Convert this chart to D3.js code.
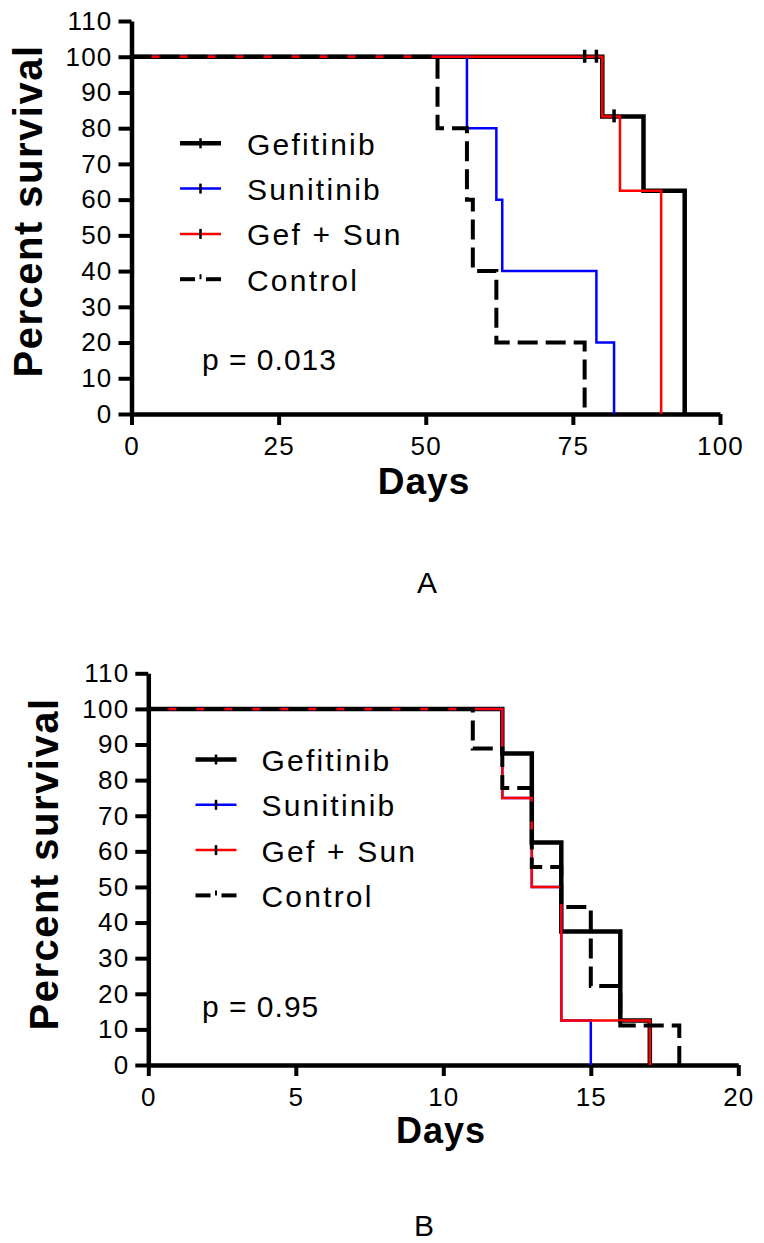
<!DOCTYPE html>
<html><head><meta charset="utf-8">
<script src="https://cdn.jsdelivr.net/npm/d3@7"></script>
<style>body{margin:0;background:#fff}svg{display:block}</style>
</head><body>
<svg id="c" width="764" height="1243"></svg>
<script>
// ---------- DATA ----------
const seriesNames = ["Gefitinib", "Sunitinib", "Gef + Sun", "Control"];
// Panel A
const xTicksA = [0, 25, 50, 75, 100];
const yTicks = [0, 10, 20, 30, 40, 50, 60, 70, 80, 90, 100, 110];
const gefDaysA = [0, 80, 87, 94];          const gefSurvA = [100, 83.3, 62.5, 0];
const sunDaysA = [0, 57, 62, 63, 79, 82];  const sunSurvA = [100, 80, 60, 40, 20, 0];
const comDaysA = [0, 80, 83, 90];          const comSurvA = [100, 83.3, 62.5, 0];
const ctlDaysA = [0, 52, 57, 58, 62, 77];  const ctlSurvA = [100, 80, 60, 40, 20, 0];
const gefCensDaysA = [77, 79, 82];         const gefCensSurvA = [100, 100, 83.3];
const pTextA = "p = 0.013";
// Panel B
const xTicksB = [0, 5, 10, 15, 20];
const gefDaysB = [0, 12, 13, 14, 16, 17];  const gefSurvB = [100, 87.5, 62.5, 37.5, 12.5, 0];
const sunDaysB = [0, 12, 13, 14, 15];      const sunSurvB = [100, 75, 50, 12.5, 0];
const comDaysB = [0, 12, 13, 14, 17];      const comSurvB = [100, 75, 50, 12.5, 0];
const ctlDaysB = [0, 11, 12, 13, 14, 15, 16, 18]; const ctlSurvB = [100, 88.9, 77.8, 55.6, 44.4, 22.2, 11.1, 0];
const pTextB = "p = 0.95";

// ---------- DRAW ----------
const svg = d3.select("#c");
const FONT = "'Liberation Sans', Arial, sans-serif";
const styles = [
  {stroke: "#000", width: 4.5, dash: null},
  {stroke: "#0000ff", width: 2.5, dash: null},
  {stroke: "#ff0000", width: 2.5, dash: null},
  {stroke: "#000", width: 4, dash: "20,8"}
];
const zip = (a, b) => a.map((d, i) => [d, b[i]]);

function panel(cfg) {
  const x = d3.scaleLinear().domain(cfg.xDomain).range(cfg.xRange);
  const y = d3.scaleLinear().domain([0, 110]).range(cfg.yRange);
  const g = svg.append("g");

  // axes
  const ya = g.append("g").attr("transform", `translate(${cfg.xRange[0]},0)`)
    .call(d3.axisLeft(y).tickValues(yTicks).tickSize(13).tickSizeOuter(0).tickPadding(6));
  const xa = g.append("g").attr("transform", `translate(0,${cfg.yRange[0]})`)
    .call(d3.axisBottom(x).tickValues(cfg.xTicks).tickSize(11).tickSizeOuter(0).tickPadding(12));
  [ya, xa].forEach(a => {
    a.select(".domain").attr("stroke", "#000").attr("stroke-width", 4.5);
    a.selectAll(".tick line").attr("stroke", "#000").attr("stroke-width", 4);
    a.selectAll("text").attr("font-family", FONT).attr("font-size", 26)
      .attr("letter-spacing", 1.2).attr("fill", "#000");
  });

  // curves
  const line = d3.line().x(d => x(d[0])).y(d => y(d[1])).curve(d3.curveStepAfter);
  cfg.series.forEach((s, i) => {
    const st = styles[i];
    g.append("path").datum(zip(s.days, s.surv)).attr("d", line)
      .attr("fill", "none").attr("stroke", st.stroke).attr("stroke-width", st.width)
      .attr("stroke-dasharray", st.dash).attr("stroke-linecap", "butt");
  });
  // censor marks
  if (cfg.cens) {
    g.selectAll(".cens").data(zip(cfg.cens.days, cfg.cens.surv)).enter().append("line")
      .attr("x1", d => x(d[0])).attr("x2", d => x(d[0]))
      .attr("y1", d => y(d[1]) - 7).attr("y2", d => y(d[1]) + 6)
      .attr("stroke", "#000").attr("stroke-width", 3.5);
  }

  // legend
  const lg = g.append("g");
  seriesNames.forEach((name, i) => {
    const st = styles[i];
    const ly = cfg.legY + i * 45.3;
    if (i < 3) {
      lg.append("line").attr("x1", cfg.legX).attr("x2", cfg.legX + 41).attr("y1", ly).attr("y2", ly)
        .attr("stroke", st.stroke).attr("stroke-width", st.width);
      lg.append("line").attr("x1", cfg.legX + 20.5).attr("x2", cfg.legX + 20.5).attr("y1", ly - 5).attr("y2", ly + 5)
        .attr("stroke", "#000").attr("stroke-width", 2.5);
    } else {
      lg.append("line").attr("x1", cfg.legX).attr("x2", cfg.legX + 15).attr("y1", ly).attr("y2", ly)
        .attr("stroke", "#000").attr("stroke-width", 4);
      lg.append("line").attr("x1", cfg.legX + 26).attr("x2", cfg.legX + 41).attr("y1", ly).attr("y2", ly)
        .attr("stroke", "#000").attr("stroke-width", 4);
      lg.append("line").attr("x1", cfg.legX + 20.5).attr("x2", cfg.legX + 20.5).attr("y1", ly - 5).attr("y2", ly)
        .attr("stroke", "#000").attr("stroke-width", 2);
    }
    lg.append("text").attr("x", cfg.legX + cfg.legTextDx).attr("y", ly + 11.5)
      .attr("font-family", FONT).attr("font-size", 30).attr("letter-spacing", 2.2)
      .text(name);
  });

  // p value
  g.append("text").attr("x", 202).attr("y", cfg.pY).attr("font-family", FONT)
    .attr("font-size", 30).attr("letter-spacing", 1).text(cfg.pText);

  // axis titles
  g.append("text").attr("transform", `translate(${cfg.yTitleX},${cfg.yTitleY}) rotate(-90)`)
    .attr("text-anchor", "middle").attr("font-family", FONT).attr("font-weight", "bold")
    .attr("font-size", 40).attr("letter-spacing", 1.5).text("Percent survival");
  g.append("text").attr("x", cfg.xTitleX).attr("y", cfg.xTitleY).attr("text-anchor", "middle")
    .attr("font-family", FONT).attr("font-weight", "bold").attr("font-size", cfg.xTitleSize)
    .attr("letter-spacing", 1).text("Days");
  g.append("text").attr("x", cfg.labX).attr("y", cfg.labY).attr("text-anchor", "middle")
    .attr("font-family", FONT).attr("font-size", 30).text(cfg.label);
}

panel({
  xDomain: [0, 100], xRange: [131.5, 720], yRange: [414, 21], xTicks: xTicksA,
  series: [
    {days: gefDaysA, surv: gefSurvA}, {days: sunDaysA, surv: sunSurvA},
    {days: comDaysA, surv: comSurvA}, {days: ctlDaysA, surv: ctlSurvA}
  ],
  cens: {days: gefCensDaysA, surv: gefCensSurvA},
  legX: 180, legY: 143.3, legTextDx: 67, pY: 370, pText: pTextA,
  yTitleX: 42, yTitleY: 211, xTitleX: 424, xTitleY: 494, xTitleSize: 37, labX: 427, labY: 593, label: "A"
});
panel({
  xDomain: [0, 20], xRange: [148.3, 738.3], yRange: [1065, 673.3], xTicks: xTicksB,
  series: [
    {days: gefDaysB, surv: gefSurvB}, {days: sunDaysB, surv: sunSurvB},
    {days: comDaysB, surv: comSurvB}, {days: ctlDaysB, surv: ctlSurvB}
  ],
  cens: null,
  legX: 195.5, legY: 759.5, legTextDx: 66, pY: 1017, pText: pTextB,
  yTitleX: 58, yTitleY: 864, xTitleX: 441, xTitleY: 1143, xTitleSize: 36, labX: 424, labY: 1236, label: "B"
});
</script>
</body></html>
